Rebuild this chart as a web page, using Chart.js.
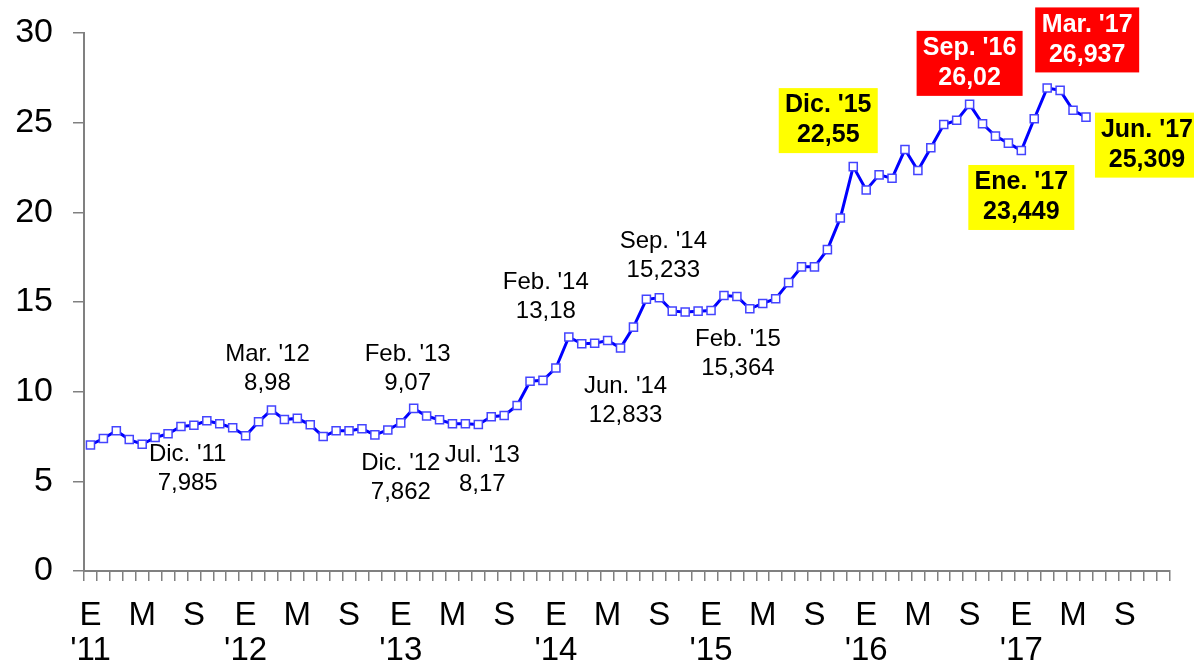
<!DOCTYPE html>
<html>
<head>
<meta charset="utf-8">
<script src="https://cdn.jsdelivr.net/npm/chart.js@4.4.1/dist/chart.umd.min.js"></script>
<style>
  html, body { margin: 0; padding: 0; background: #fff; }
  #wrap { width: 1194px; height: 663px; position: relative; }
</style>
</head>
<body>
<div id="wrap"><canvas id="chart" width="1194" height="663"></canvas></div>
<script>
// ===== Monthly series Jan '11 .. Jun '17 =====

const YEARS = ["'11", "'12", "'13", "'14", "'15", "'16", "'17"];
const MONTH_TICKS = { 0: 'E', 4: 'M', 8: 'S' };

const values2011 = [7.03, 7.39, 7.82, 7.33, 7.07, 7.44, 7.65, 8.06, 8.13, 8.38, 8.21, 7.985];
const values2012 = [7.54, 8.32, 8.98, 8.45, 8.51, 8.15, 7.50, 7.82, 7.82, 7.93, 7.59, 7.862];
const values2013 = [8.26, 9.07, 8.64, 8.43, 8.21, 8.21, 8.17, 8.60, 8.67, 9.23, 10.58, 10.63];
const values2014 = [11.32, 13.05, 12.67, 12.70, 12.85, 12.44, 13.60, 15.15, 15.233, 14.49, 14.44, 14.49];
const values2015 = [14.53, 15.364, 15.31, 14.62, 14.92, 15.18, 16.08, 16.96, 16.96, 17.92, 19.68, 22.55];
const values2016 = [21.25, 22.09, 21.90, 23.50, 22.33, 23.60, 24.90, 25.13, 26.02, 24.94, 24.25, 23.86];
const values2017 = [23.449, 25.22, 26.937, 26.80, 25.69, 25.309];

const yTicks = [0, 5, 10, 15, 20, 25, 30];

// callouts: index of the month, text lines, style
const callouts = [
  { i: 11, lines: ["Dic. '11", '7,985'],  dx: -45, dy: 41 },
  { i: 14, lines: ["Mar. '12", '8,98'],   dx: -4,  dy: -41 },
  { i: 23, lines: ["Dic. '12", '7,862'],  dx: 13,  dy: 48 },
  { i: 25, lines: ["Feb. '13", '9,07'],   dx: -6,  dy: -39 },
  { i: 30, lines: ["Jul. '13", '8,17'],   dx: 4,   dy: 45 },
  { i: 37, lines: ["Feb. '14", '13,18'],  dx: -23, dy: -40 },
  { i: 41, lines: ["Jun. '14", '12,833'], dx: 5,   dy: 53 },
  { i: 44, lines: ["Sep. '14", '15,233'], dx: 4,   dy: -42 },
  { i: 49, lines: ["Feb. '15", '15,364'], dx: 14,  dy: 58 },
  { i: 59, lines: ["Dic. '15", '22,55'],  dx: -25, dy: -46, box: '#ffff00', color: '#000', w: 99 },
  { i: 68, lines: ["Sep. '16", '26,02'],  dx: 0,   dy: -41, box: '#ff0000', color: '#fff', w: 106 },
  { i: 72, lines: ["Ene. '17", '23,449'], dx: 0,   dy: 47,  box: '#ffff00', color: '#000', w: 106 },
  { i: 74, lines: ["Mar. '17", '26,937'], dx: 40,  dy: -48, box: '#ff0000', color: '#fff', w: 104 },
  { i: 77, lines: ["Jun. '17", '25,309'], dx: 61,  dy: 28,  box: '#ffff00', color: '#000', w: 104 },
];

const series = [].concat(values2011, values2012, values2013, values2014, values2015, values2016, values2017);

// 84 month slots (whole of 2017 on the axis)
const labels = [];
YEARS.forEach(yy => {
  for (let m = 0; m < 12; m++) {
    if (m === 0) labels.push([MONTH_TICKS[0], yy]);
    else labels.push(MONTH_TICKS[m] || '');
  }
});

const FONT = "'Liberation Sans', Arial, sans-serif";
const AXIS_GRAY = '#808080';

const calloutPlugin = {
  id: 'callouts',
  afterDatasetsDraw(chart) {
    const { ctx, scales } = chart;
    ctx.save();
    ctx.textAlign = 'center';
    ctx.textBaseline = 'middle';
    callouts.forEach(c => {
      const cx = scales.x.getPixelForValue(c.i) + c.dx;
      const cy = scales.y.getPixelForValue(series[c.i]) + c.dy;
      if (c.box) {
        const h = 65;
        ctx.fillStyle = c.box;
        ctx.fillRect(cx - c.w / 2, cy - h / 2, c.w, h);
        ctx.font = 'bold 25px ' + FONT;
        ctx.fillStyle = c.color;
        ctx.fillText(c.lines[0], cx, cy - 15);
        ctx.fillText(c.lines[1], cx, cy + 15);
      } else {
        ctx.font = '24px ' + FONT;
        ctx.fillStyle = '#000';
        ctx.fillText(c.lines[0], cx, cy - 14.5);
        ctx.fillText(c.lines[1], cx, cy + 14.5);
      }
    });
    ctx.restore();
  }
};

new Chart(document.getElementById('chart').getContext('2d'), {
  type: 'line',
  data: {
    labels,
    datasets: [{
      data: series,
      borderColor: '#0000ff',
      borderWidth: 3,
      tension: 0,
      pointStyle: 'rect',
      pointRadius: 5.7,
      pointBackgroundColor: '#ffffff',
      pointBorderColor: '#4444ff',
      pointBorderWidth: 1.5,
      clip: false,
    }]
  },
  options: {
    responsive: false,
    animation: false,
    layout: { padding: { top: 33, right: 24, left: 0, bottom: 0 } },
    plugins: { legend: { display: false }, tooltip: { enabled: false } },
    scales: {
      x: {
        offset: true,
        grid: { offset: true, drawOnChartArea: false, tickLength: 10, color: AXIS_GRAY, lineWidth: 1.5 },
        border: { color: AXIS_GRAY, width: 2 },
        ticks: {
          autoSkip: false,
          maxRotation: 0,
          color: '#000',
          padding: 17,
          font: { family: FONT, size: 33, lineHeight: 1.06 },
        },
        afterFit: s => { s.height = 92; s.paddingLeft = 0; s.paddingRight = 0; },
      },
      y: {
        min: 0,
        max: 30,
        afterBuildTicks: s => { s.ticks = yTicks.map(v => ({ value: v })); },
        grid: { drawOnChartArea: false, tickLength: 11, color: AXIS_GRAY, lineWidth: 1.5 },
        border: { color: AXIS_GRAY, width: 2 },
        ticks: {
          color: '#000',
          padding: 20,
          font: { family: FONT, size: 34 },
        },
        afterFit: s => { s.width = 84; s.paddingTop = 0; s.paddingBottom = 0; },
      }
    }
  },
  plugins: [calloutPlugin]
});
</script>
</body>
</html>
